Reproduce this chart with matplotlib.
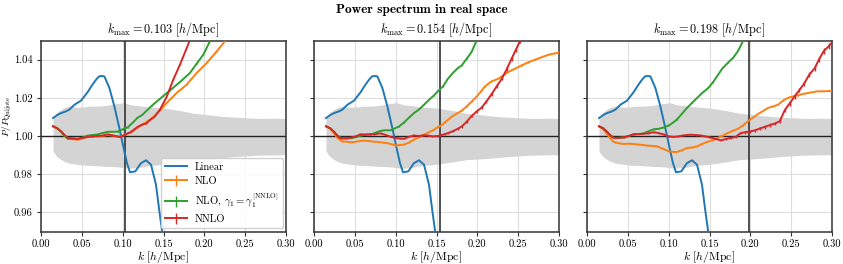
import matplotlib
matplotlib.use("Agg")
import matplotlib.pyplot as plt
import numpy as np

plt.rcParams['font.family'] = 'serif'
plt.rcParams['font.serif'] = ['cmr10']
plt.rcParams['mathtext.fontset'] = 'cm'
plt.rcParams['axes.formatter.use_mathtext'] = True

# ---------------- data ----------------
kmax_vals = [0.103, 0.154, 0.198]

k_lin = [0.0147, 0.0200, 0.0245, 0.0300, 0.0347, 0.0410, 0.0490, 0.0570, 0.0630, 0.0680,
         0.0714, 0.0750, 0.0776, 0.0837, 0.0898, 0.0959, 0.1020, 0.1053, 0.1090, 0.1155,
         0.1224, 0.1286, 0.1347, 0.1408, 0.1450, 0.1490, 0.1530]
p_lin = [1.0094, 1.0110, 1.0120, 1.0128, 1.0138, 1.0164, 1.0185, 1.0229, 1.0269, 1.0298,
         1.0313, 1.0314, 1.0312, 1.0252, 1.0156, 1.0042, 0.9920, 0.9858, 0.9810, 0.9815,
         0.9858, 0.9873, 0.9850, 0.9745, 0.9605, 0.9480, 0.9350]

k_band = [0.0147, 0.0190, 0.0233, 0.0290, 0.0355, 0.0440, 0.0519, 0.0600, 0.0723, 0.0800,
          0.0886, 0.0950, 0.1009, 0.1100, 0.1210, 0.1330, 0.1457, 0.1600, 0.1740, 0.1865,
          0.2030, 0.2150, 0.2273, 0.2400, 0.2520, 0.2680, 0.2840, 0.3000]
band_hi = [1.0093, 1.0122, 1.0136, 1.0150, 1.0157, 1.0150, 1.0152, 1.0156, 1.0157, 1.0160,
           1.0168, 1.0170, 1.0175, 1.0163, 1.0158, 1.0152, 1.0148, 1.0140, 1.0130, 1.0119,
           1.0112, 1.0106, 1.0101, 1.0098, 1.0095, 1.0092, 1.0093, 1.0092]
band_lo = [0.9920, 0.9895, 0.9880, 0.9866, 0.9857, 0.9852, 0.9848, 0.9846, 0.9843, 0.9841,
           0.9840, 0.9838, 0.9834, 0.9831, 0.9836, 0.9845, 0.9850, 0.9858, 0.9867, 0.9876,
           0.9880, 0.9884, 0.9888, 0.9893, 0.9896, 0.9900, 0.9901, 0.9902]

# panel 1 (kmax = 0.103)
k_nlo_1 = [0.0147, 0.0200, 0.0245, 0.0290, 0.0330, 0.0390, 0.0450, 0.0510, 0.0570, 0.0630,
           0.0690, 0.0750, 0.0816, 0.0880, 0.0959, 0.1000, 0.1040, 0.1100, 0.1180, 0.1224,
           0.1280, 0.1340, 0.1390, 0.1457, 0.1539, 0.1660, 0.1784, 0.1906, 0.2029, 0.2151,
           0.2253, 0.2290]
p_nlo_1 = [1.0051, 1.0040, 1.0022, 1.0000, 0.9985, 0.9983, 0.9980, 0.9988, 0.9995, 0.9998,
           0.9997, 1.0000, 1.0005, 1.0002, 0.9997, 1.0002, 1.0010, 1.0018, 1.0042, 1.0055,
           1.0070, 1.0088, 1.0105, 1.0135, 1.0173, 1.0225, 1.0269, 1.0330, 1.0382, 1.0443,
           1.0496, 1.0520]
k_g_1 = [0.0147, 0.0200, 0.0245, 0.0290, 0.0330, 0.0390, 0.0450, 0.0510, 0.0570, 0.0630,
         0.0690, 0.0750, 0.0816, 0.0880, 0.0940, 0.1000, 0.1060, 0.1120, 0.1180, 0.1240,
         0.1300, 0.1360, 0.1457, 0.1580, 0.1702, 0.1824, 0.1906, 0.1988, 0.2061, 0.2090]
p_g_1 = [1.0051, 1.0040, 1.0022, 1.0000, 0.9986, 0.9985, 0.9984, 0.9992, 1.0002, 1.0005,
         1.0008, 1.0015, 1.0022, 1.0022, 1.0023, 1.0035, 1.0045, 1.0068, 1.0095, 1.0110,
         1.0135, 1.0160, 1.0195, 1.0239, 1.0283, 1.0330, 1.0379, 1.0426, 1.0490, 1.0520]
k_nnlo_1 = [0.0147, 0.0200, 0.0245, 0.0290, 0.0327, 0.0390, 0.0450, 0.0510, 0.0570, 0.0630,
            0.0690, 0.0750, 0.0816, 0.0880, 0.0959, 0.1000, 0.1040, 0.1100, 0.1180, 0.1240,
            0.1286, 0.1340, 0.1390, 0.1457, 0.1539, 0.1620, 0.1702, 0.1784, 0.1840]
p_nnlo_1 = [1.0051, 1.0040, 1.0025, 1.0005, 0.9990, 0.9988, 0.9985, 0.9990, 0.9995, 0.9998,
            1.0000, 1.0002, 1.0009, 1.0003, 0.9995, 1.0000, 1.0009, 1.0021, 1.0047, 1.0060,
            1.0065, 1.0085, 1.0100, 1.0138, 1.0205, 1.0295, 1.0374, 1.0460, 1.0520]

# panel 2 (kmax = 0.154)
k_nlo_2 = [0.0147, 0.0200, 0.0245, 0.0286, 0.0347, 0.0400, 0.0450, 0.0510, 0.0570, 0.0610,
           0.0680, 0.0740, 0.0776, 0.0840, 0.0900, 0.0940, 0.1000, 0.1050, 0.1100, 0.1160,
           0.1224, 0.1290, 0.1347, 0.1410, 0.1470, 0.1530, 0.1580, 0.1640, 0.1700, 0.1760,
           0.1810, 0.1870, 0.1930, 0.2000, 0.2094, 0.2170, 0.2258, 0.2320, 0.2380, 0.2460,
           0.2543, 0.2620, 0.2710, 0.2790, 0.2870, 0.2940, 0.3000]
p_nlo_2 = [1.0051, 1.0038, 1.0015, 0.9990, 0.9972, 0.9970, 0.9967, 0.9970, 0.9974, 0.9976,
           0.9973, 0.9970, 0.9969, 0.9966, 0.9962, 0.9958, 0.9951, 0.9953, 0.9955, 0.9965,
           0.9981, 0.9995, 1.0007, 1.0020, 1.0033, 1.0050, 1.0062, 1.0085, 1.0105, 1.0120,
           1.0133, 1.0155, 1.0180, 1.0210, 1.0260, 1.0285, 1.0300, 1.0318, 1.0335, 1.0352,
           1.0370, 1.0385, 1.0400, 1.0413, 1.0425, 1.0432, 1.0437]
k_g_2 = [0.0147, 0.0200, 0.0245, 0.0290, 0.0327, 0.0390, 0.0450, 0.0510, 0.0570, 0.0630,
         0.0690, 0.0735, 0.0800, 0.0860, 0.0940, 0.0980, 0.1040, 0.1100, 0.1160, 0.1224,
         0.1290, 0.1347, 0.1410, 0.1470, 0.1530, 0.1580, 0.1640, 0.1700, 0.1760, 0.1810,
         0.1870, 0.1930, 0.1992, 0.2020]
p_g_2 = [1.0051, 1.0040, 1.0022, 1.0002, 0.9990, 0.9988, 0.9988, 0.9994, 1.0002, 1.0006,
         1.0008, 1.0014, 1.0025, 1.0030, 1.0030, 1.0038, 1.0050, 1.0070, 1.0095, 1.0120,
         1.0140, 1.0164, 1.0190, 1.0213, 1.0240, 1.0260, 1.0300, 1.0330, 1.0355, 1.0370,
         1.0405, 1.0440, 1.0500, 1.0530]
k_nnlo_2 = [0.0147, 0.0200, 0.0245, 0.0286, 0.0327, 0.0390, 0.0450, 0.0510, 0.0570, 0.0630,
            0.0690, 0.0735, 0.0816, 0.0880, 0.0940, 0.1000, 0.1050, 0.1100, 0.1160, 0.1224,
            0.1280, 0.1340, 0.1390, 0.1450, 0.1510, 0.1560, 0.1600, 0.1640, 0.1700, 0.1760,
            0.1810, 0.1870, 0.1930, 0.1990, 0.2053, 0.2110, 0.2176, 0.2240, 0.2300, 0.2360,
            0.2420, 0.2470, 0.2523, 0.2560]
p_nnlo_2 = [1.0051, 1.0040, 1.0022, 1.0000, 0.9988, 0.9988, 0.9991, 0.9998, 1.0009, 1.0008,
            1.0009, 1.0009, 1.0014, 1.0005, 0.9995, 0.9990, 0.9987, 0.9985, 0.9995, 1.0003,
            1.0000, 1.0003, 1.0003, 0.9998, 1.0000, 1.0004, 1.0010, 1.0015, 1.0025, 1.0038,
            1.0050, 1.0075, 1.0105, 1.0128, 1.0149, 1.0180, 1.0220, 1.0262, 1.0300, 1.0350,
            1.0405, 1.0450, 1.0497, 1.0530]
e_nnlo_2 = [0.0002, 0.0002, 0.0002, 0.0002, 0.0002, 0.0002, 0.0002, 0.0002, 0.0002, 0.0002,
            0.0002, 0.0002, 0.0002, 0.0002, 0.0002, 0.0002, 0.0002, 0.0002, 0.0002, 0.0002,
            0.0003, 0.0003, 0.0003, 0.0003, 0.0003, 0.0004, 0.0004, 0.0005, 0.0005, 0.0006,
            0.0006, 0.0007, 0.0007, 0.0007, 0.0008, 0.0008, 0.0008, 0.0009, 0.0009, 0.0009,
            0.0010, 0.0010, 0.0010, 0.0010]

# panel 3 (kmax = 0.198)
k_nlo_3 = [0.0147, 0.0200, 0.0245, 0.0290, 0.0327, 0.0390, 0.0450, 0.0510, 0.0570, 0.0610,
           0.0680, 0.0735, 0.0800, 0.0857, 0.0920, 0.1000, 0.1050, 0.1100, 0.1160, 0.1224,
           0.1290, 0.1347, 0.1410, 0.1470, 0.1530, 0.1604, 0.1660, 0.1727, 0.1790, 0.1850,
           0.1910, 0.1970, 0.2030, 0.2094, 0.2160, 0.2217, 0.2280, 0.2340, 0.2400, 0.2462,
           0.2520, 0.2584, 0.2640, 0.2707, 0.2770, 0.2830, 0.2900, 0.3000]
p_nlo_3 = [1.0051, 1.0035, 1.0010, 0.9985, 0.9969, 0.9962, 0.9958, 0.9960, 0.9958, 0.9956,
           0.9953, 0.9950, 0.9948, 0.9946, 0.9935, 0.9920, 0.9917, 0.9916, 0.9925, 0.9937,
           0.9940, 0.9946, 0.9958, 0.9969, 0.9976, 0.9990, 1.0002, 1.0016, 1.0028, 1.0038,
           1.0055, 1.0077, 1.0095, 1.0115, 1.0132, 1.0147, 1.0155, 1.0164, 1.0185, 1.0200,
           1.0207, 1.0213, 1.0220, 1.0225, 1.0230, 1.0234, 1.0234, 1.0236]
k_g_3 = [0.0147, 0.0200, 0.0245, 0.0290, 0.0327, 0.0390, 0.0450, 0.0510, 0.0570, 0.0630,
         0.0690, 0.0735, 0.0816, 0.0880, 0.0940, 0.1000, 0.1060, 0.1100, 0.1160, 0.1224,
         0.1290, 0.1347, 0.1410, 0.1482, 0.1540, 0.1604, 0.1660, 0.1727, 0.1790, 0.1850,
         0.1910, 0.1940]
p_g_3 = [1.0051, 1.0040, 1.0022, 1.0002, 0.9990, 0.9990, 0.9993, 1.0000, 1.0009, 1.0010,
         1.0013, 1.0022, 1.0035, 1.0038, 1.0045, 1.0055, 1.0072, 1.0086, 1.0115, 1.0147,
         1.0175, 1.0199, 1.0225, 1.0250, 1.0280, 1.0320, 1.0355, 1.0384, 1.0410, 1.0445,
         1.0497, 1.0520]
k_nnlo_3 = [0.0147, 0.0200, 0.0245, 0.0290, 0.0327, 0.0390, 0.0450, 0.0510, 0.0570, 0.0630,
            0.0690, 0.0750, 0.0816, 0.0880, 0.0940, 0.1000, 0.1060, 0.1120, 0.1180, 0.1265,
            0.1330, 0.1390, 0.1450, 0.1500, 0.1560, 0.1640, 0.1700, 0.1760, 0.1820, 0.1880,
            0.1940, 0.2000, 0.2060, 0.2120, 0.2180, 0.2240, 0.2300, 0.2360, 0.2421, 0.2480,
            0.2543, 0.2600, 0.2660, 0.2720, 0.2790, 0.2840, 0.2900, 0.2960, 0.3000]
p_nnlo_3 = [1.0051, 1.0040, 1.0022, 1.0002, 0.9990, 0.9990, 0.9993, 1.0000, 1.0009, 1.0010,
            1.0012, 1.0014, 1.0020, 1.0015, 1.0008, 0.9998, 0.9995, 0.9998, 1.0003, 1.0007,
            1.0005, 1.0003, 0.9998, 0.9993, 0.9987, 0.9977, 0.9984, 0.9990, 0.9995, 1.0015,
            1.0020, 1.0024, 1.0030, 1.0040, 1.0048, 1.0057, 1.0065, 1.0077, 1.0135, 1.0170,
            1.0208, 1.0240, 1.0275, 1.0320, 1.0356, 1.0400, 1.0445, 1.0470, 1.0490]
e_nnlo_3 = [0.0002, 0.0002, 0.0002, 0.0002, 0.0002, 0.0002, 0.0002, 0.0002, 0.0002, 0.0002,
            0.0002, 0.0002, 0.0002, 0.0002, 0.0002, 0.0002, 0.0002, 0.0002, 0.0003, 0.0003,
            0.0003, 0.0003, 0.0003, 0.0003, 0.0004, 0.0004, 0.0004, 0.0005, 0.0005, 0.0006,
            0.0007, 0.0007, 0.0008, 0.0008, 0.0009, 0.0009, 0.0010, 0.0010, 0.0011, 0.0011,
            0.0012, 0.0012, 0.0013, 0.0013, 0.0014, 0.0014, 0.0014, 0.0015, 0.0015]

panels = [
    (k_nlo_1, p_nlo_1, k_g_1, p_g_1, k_nnlo_1, p_nnlo_1, None),
    (k_nlo_2, p_nlo_2, k_g_2, p_g_2, k_nnlo_2, p_nnlo_2, e_nnlo_2),
    (k_nlo_3, p_nlo_3, k_g_3, p_g_3, k_nnlo_3, p_nnlo_3, e_nnlo_3),
]

C_LIN, C_NLO, C_G, C_NNLO = '#1f77b4', '#ff7f0e', '#2ca02c', '#d62728'

fig = plt.figure(figsize=(8.43, 2.64), dpi=100)
lefts = [41 / 843, 314 / 843, 587 / 843]
width = 245 / 843
bottom = 1 - 231.5 / 264
height = 191 / 264

for i, (kmax, pan) in enumerate(zip(kmax_vals, panels)):
    ax = fig.add_axes([lefts[i], bottom, width, height])
    kn, pn, kg, pg, kr, pr, er = pan
    ax.fill_between(k_band, band_lo, band_hi, color='#d4d4d4', lw=0, zorder=1)
    ax.axhline(1.0, color='#222222', lw=1.0, zorder=2)
    ax.axvline(kmax, color='#333333', lw=1.2, zorder=2)
    ax.plot(k_lin, p_lin, color=C_LIN, lw=1.4, label='Linear', zorder=3)
    ax.errorbar(kn, pn, yerr=0.0001, color=C_NLO, lw=1.4, elinewidth=1.0, label='NLO', zorder=3)
    ax.errorbar(kg, pg, yerr=0.0001, color=C_G, lw=1.4, elinewidth=1.0,
                label=r'NLO, $\gamma_1=\gamma_1^{[\rm NNLO]}$', zorder=3)
    ax.errorbar(kr, pr, yerr=(er if er is not None else 0.0001), color=C_NNLO, lw=1.4,
                elinewidth=1.0, label='NNLO', zorder=4)
    ax.set_xlim(0, 0.30)
    ax.set_ylim(0.95, 1.05)
    ax.set_xticks([0.0, 0.05, 0.10, 0.15, 0.20, 0.25, 0.30])
    ax.set_xticklabels(['0.00', '0.05', '0.10', '0.15', '0.20', '0.25', '0.30'])
    ax.set_yticks([0.96, 0.98, 1.00, 1.02, 1.04])
    if i == 0:
        ax.set_yticklabels(['0.96', '0.98', '1.00', '1.02', '1.04'])
    else:
        ax.set_yticklabels([])
    ax.grid(True, color='#dddddd', lw=0.8, zorder=0)
    ax.set_axisbelow(True)
    for s in ax.spines.values():
        s.set_color('#333333')
        s.set_linewidth(1.1)
    ax.tick_params(labelsize=7.6, length=3, width=0.8, color='#333333', pad=2.5)
    ax.tick_params(axis='y', pad=3.0)
    ax.set_xlabel(r'$k\ [h/{\rm Mpc}]$', fontsize=8.5, labelpad=0)
    ax.set_title(r'$k_{\rm max} = %.3f\ [h/{\rm Mpc}]$' % kmax, fontsize=8.8, pad=5)
    if i == 0:
        ax.legend(loc='lower right', fontsize=7.6, framealpha=0.9, borderpad=0.4,
                  labelspacing=0.45, handlelength=2.0, borderaxespad=0.3)

fig.text(7.0 / 843, 1 - 116 / 264, r'$P/P_{\rm Quijote}$', fontsize=7.0, rotation=90,
         ha='center', va='center')
fig.suptitle('Power spectrum in real space', fontfamily='cmb10', fontsize=9.5, y=0.985)
fig.savefig('out.png', dpi=100)
